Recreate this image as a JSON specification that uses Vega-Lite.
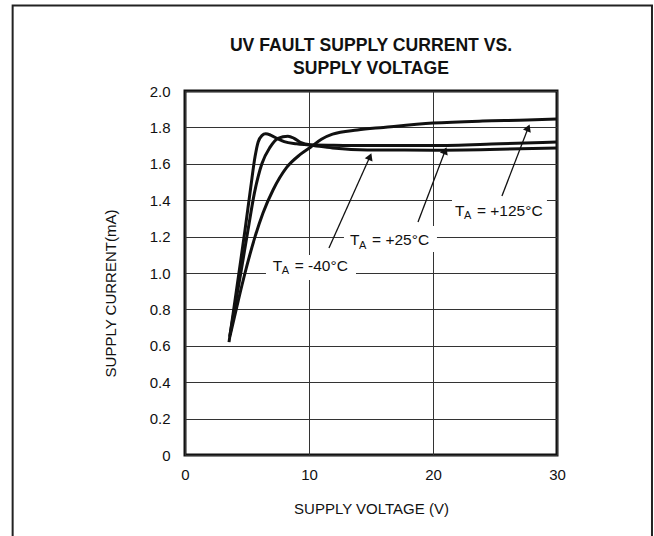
{
  "$schema": "https://vega.github.io/schema/vega-lite/v6.json",
  "width": 372,
  "height": 364,
  "autosize": {"type": "none"},
  "padding": {"left": 185, "top": 91, "right": 97, "bottom": 81},
  "background": "white",
  "config": {
    "font": "Liberation Sans Narrow, Liberation Sans, sans-serif",
    "view": {"stroke": "#111", "strokeWidth": 3},
    "axis": {
      "ticks": false,
      "domain": false,
      "grid": true,
      "gridColor": "#333",
      "gridWidth": 1,
      "labelColor": "#111",
      "labelFontSize": 15,
      "titleColor": "#111",
      "titleFontSize": 15,
      "titleFontWeight": "normal",
      "labelFlush": false,
      "labelOverlap": false
    }
  },
  "title": {
    "text": ["UV FAULT SUPPLY CURRENT VS.", "SUPPLY VOLTAGE"],
    "fontSize": 17.6,
    "fontWeight": "bold",
    "anchor": "middle",
    "offset": -73,
    "lineHeight": 23,
    "color": "#111"
  },
  "datasets": {
    "curves": [
      {"series": "-40", "v": 3.55, "i": 0.62},
      {"series": "-40", "v": 4.35, "i": 1.0},
      {"series": "-40", "v": 4.84, "i": 1.236},
      {"series": "-40", "v": 5.3, "i": 1.47},
      {"series": "-40", "v": 5.65, "i": 1.64},
      {"series": "-40", "v": 5.9, "i": 1.72},
      {"series": "-40", "v": 6.2, "i": 1.755},
      {"series": "-40", "v": 6.5, "i": 1.765},
      {"series": "-40", "v": 6.9, "i": 1.758},
      {"series": "-40", "v": 7.4, "i": 1.74},
      {"series": "-40", "v": 8.0, "i": 1.722},
      {"series": "-40", "v": 9.0, "i": 1.71},
      {"series": "-40", "v": 10.0, "i": 1.703},
      {"series": "-40", "v": 11.9, "i": 1.687},
      {"series": "-40", "v": 14.7, "i": 1.676},
      {"series": "-40", "v": 20, "i": 1.675},
      {"series": "-40", "v": 25.4, "i": 1.68},
      {"series": "-40", "v": 30, "i": 1.687},
      {"series": "+25", "v": 3.6, "i": 0.65},
      {"series": "+25", "v": 4.5, "i": 1.0},
      {"series": "+25", "v": 5.08, "i": 1.236},
      {"series": "+25", "v": 5.6, "i": 1.44},
      {"series": "+25", "v": 6.2, "i": 1.6},
      {"series": "+25", "v": 6.85, "i": 1.69},
      {"series": "+25", "v": 7.5, "i": 1.74},
      {"series": "+25", "v": 8.3, "i": 1.752},
      {"series": "+25", "v": 8.8, "i": 1.74},
      {"series": "+25", "v": 9.3, "i": 1.718},
      {"series": "+25", "v": 10.1, "i": 1.705},
      {"series": "+25", "v": 12, "i": 1.702},
      {"series": "+25", "v": 14.7, "i": 1.7},
      {"series": "+25", "v": 20, "i": 1.7},
      {"series": "+25", "v": 25.4, "i": 1.71},
      {"series": "+25", "v": 30, "i": 1.72},
      {"series": "+125", "v": 3.65, "i": 0.66},
      {"series": "+125", "v": 4.3, "i": 0.85},
      {"series": "+125", "v": 4.84, "i": 1.0},
      {"series": "+125", "v": 5.65, "i": 1.2},
      {"series": "+125", "v": 6.29, "i": 1.33},
      {"series": "+125", "v": 7.1, "i": 1.456},
      {"series": "+125", "v": 8.2, "i": 1.58},
      {"series": "+125", "v": 9.27, "i": 1.65},
      {"series": "+125", "v": 10.1, "i": 1.69},
      {"series": "+125", "v": 11.0, "i": 1.735},
      {"series": "+125", "v": 11.9, "i": 1.763},
      {"series": "+125", "v": 13.9, "i": 1.786},
      {"series": "+125", "v": 16, "i": 1.8},
      {"series": "+125", "v": 20, "i": 1.824},
      {"series": "+125", "v": 24, "i": 1.835},
      {"series": "+125", "v": 27.6, "i": 1.84},
      {"series": "+125", "v": 30, "i": 1.846}
    ],
    "labels": [
      {"series": "-40", "t": "T", "sub": "A", "rest": "= -40°C", "v": 7.07, "i": 1.04, "bv1": 6.53, "bv2": 13.79, "bi1": 1.099, "bi2": 0.962},
      {"series": "+25", "t": "T", "sub": "A", "rest": "= +25°C", "v": 13.31, "i": 1.181, "bv1": 12.82, "bv2": 20.32, "bi1": 1.258, "bi2": 1.115},
      {"series": "+125", "t": "T", "sub": "A", "rest": "= +125°C", "v": 21.77, "i": 1.342, "bv1": 21.53, "bv2": 29.19, "bi1": 1.407, "bi2": 1.269}
    ],
    "arrows": [
      {"series": "-40", "v1": 11.61, "i1": 1.137, "v2": 14.92, "i2": 1.64},
      {"series": "+25", "v1": 18.79, "i1": 1.28, "v2": 20.98, "i2": 1.672},
      {"series": "+125", "v1": 25.56, "i1": 1.423, "v2": 27.68, "i2": 1.798}
    ]
  },
  "layer": [
    {
      "data": {"values": [{}]},
      "mark": {"type": "rect", "fill": null, "fillOpacity": 0, "stroke": "#222", "strokeWidth": 2, "clip": false},
      "encoding": {
        "x": {"datum": -13.9, "type": "quantitative"},
        "x2": {"datum": 37.66},
        "y": {"datum": 2.47, "type": "quantitative"},
        "y2": {"datum": -0.55}
      }
    },
    {
      "data": {"name": "curves"},
      "mark": {"type": "line", "interpolate": "monotone", "strokeWidth": 3, "color": "#111"},
      "encoding": {
        "x": {
          "field": "v", "type": "quantitative",
          "scale": {"domain": [0, 30], "nice": false, "zero": false},
          "axis": {"values": [0, 10, 20, 30], "tickCount": 10, "title": "SUPPLY VOLTAGE (V)", "labelPadding": 12, "titleY": 53, "titleBaseline": "middle"}
        },
        "y": {
          "field": "i", "type": "quantitative",
          "scale": {"domain": [0, 2], "nice": false},
          "axis": {
            "values": [0, 0.2, 0.4, 0.6, 0.8, 1.0, 1.2, 1.4, 1.6, 1.8, 2.0],
            "tickCount": 20,
            "labelExpr": "datum.value == 0 ? '0' : format(datum.value, '.1f')",
            "title": "SUPPLY CURRENT(mA)",
            "labelPadding": 15,
            "titleX": -75,
            "titleY": 202,
            "titleAlign": "center",
            "titleBaseline": "middle",
            "titleAngle": -90
          }
        },
        "detail": {"field": "series"}
      }
    },
    {
      "data": {"name": "labels"},
      "mark": {"type": "rect", "fill": "white", "stroke": null},
      "encoding": {
        "x": {"field": "bv1", "type": "quantitative"},
        "x2": {"field": "bv2"},
        "y": {"field": "bi1", "type": "quantitative"},
        "y2": {"field": "bi2"}
      }
    },
    {
      "data": {"name": "arrows"},
      "mark": {"type": "rule", "strokeWidth": 1.3, "color": "#111"},
      "encoding": {
        "x": {"field": "v1", "type": "quantitative"},
        "x2": {"field": "v2"},
        "y": {"field": "i1", "type": "quantitative"},
        "y2": {"field": "i2"}
      }
    },
    {
      "data": {"name": "arrows"},
      "mark": {"type": "point", "shape": "triangle-up", "filled": true, "size": 70, "angle": 22, "color": "#111", "opacity": 1},
      "encoding": {
        "x": {"field": "v2", "type": "quantitative"},
        "y": {"field": "i2", "type": "quantitative"}
      }
    },
    {
      "data": {"name": "labels"},
      "mark": {"type": "text", "align": "left", "baseline": "middle", "fontSize": 15.5, "color": "#111"},
      "encoding": {
        "x": {"field": "v", "type": "quantitative"},
        "y": {"field": "i", "type": "quantitative"},
        "text": {"field": "t"}
      }
    },
    {
      "data": {"name": "labels"},
      "mark": {"type": "text", "align": "left", "baseline": "middle", "fontSize": 11, "dx": 9, "dy": 5.5, "color": "#111"},
      "encoding": {
        "x": {"field": "v", "type": "quantitative"},
        "y": {"field": "i", "type": "quantitative"},
        "text": {"field": "sub"}
      }
    },
    {
      "data": {"name": "labels"},
      "mark": {"type": "text", "align": "left", "baseline": "middle", "fontSize": 15.5, "dx": 22, "color": "#111"},
      "encoding": {
        "x": {"field": "v", "type": "quantitative"},
        "y": {"field": "i", "type": "quantitative"},
        "text": {"field": "rest"}
      }
    }
  ]
}
